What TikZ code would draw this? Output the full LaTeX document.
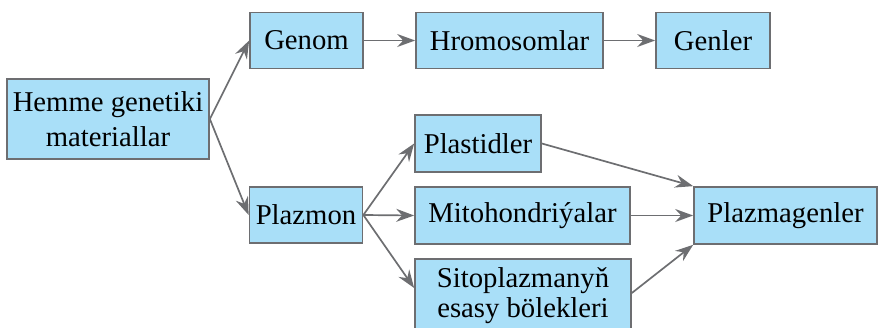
\documentclass[tikz,border=0pt]{standalone}
\usepackage{fontspec}
\setmainfont{Liberation Serif}
\usepackage{tikz}
\usetikzlibrary{arrows.meta}
\definecolor{boxfill}{HTML}{A9DFF8}
\definecolor{boxline}{HTML}{6D6E71}
\tikzset{
  gbox/.style={draw=boxline, fill=boxfill, line width=1.7pt, inner sep=0pt,
    align=center, font=\fontsize{28.7}{34}\selectfont},
  garrow/.style={draw=boxline, line width=1.7pt,
    -{Stealth[length=18pt, width=13pt, inset=6pt]}}
}
% box: name, x, y, width, height, text
\newcommand{\gbox}[6]{\node[gbox, minimum width=#4pt, minimum height=#5pt] (#1) at ( #2 , #3 ) {#6};}

\begin{document}
\begin{tikzpicture}[x=1pt,y=-1pt]
            \useasboundingbox (0,0) rectangle (878,327);
            % left
            \gbox{hemme}{108}{119}{202}{80}{Hemme genetiki\\[1pt] materiallar}
            % row 1
            \gbox{genom}{306.5}{40.5}{113}{56}{Genom}
            \gbox{hromo}{509.5}{40.5}{187}{56}{Hromosomlar}
            \gbox{genler}{713}{40.5}{114}{56}{Genler}
            % row 2
            \gbox{plazmon}{306}{215}{113}{56}{Plazmon}
            \gbox{plast}{478}{143.5}{126}{57}{Plastidler}
            \gbox{mito}{522.5}{215.5}{215}{57}{Mitohondriýalar}
            \gbox{sito}{523}{296}{216}{74}{Sitoplazmanyň\\[-4pt] esasy bölekleri}
            \gbox{plazmag}{785.5}{215.5}{183}{57}{Plazmagenler}

            % arrows
            \draw[garrow] (hemme.east) -- (genom.west);
            \draw[garrow] (hemme.east) -- (plazmon.west);
            \draw[garrow] (genom) -- (hromo);
            \draw[garrow] (hromo) -- (genler);
            \draw[garrow] (plazmon.east) -- (plast.west);
            \draw[garrow] (plazmon.east) -- (mito.west);
            \draw[garrow] (plazmon.east) -- ([yshift=8pt]sito.west);
            \draw[garrow] (plast.east) -- (plazmag.north west);
            \draw[garrow] (mito) -- (plazmag);
            \draw[garrow] ([yshift=3pt]sito.east) -- (plazmag.south west);
        \end{tikzpicture}
\end{document}
